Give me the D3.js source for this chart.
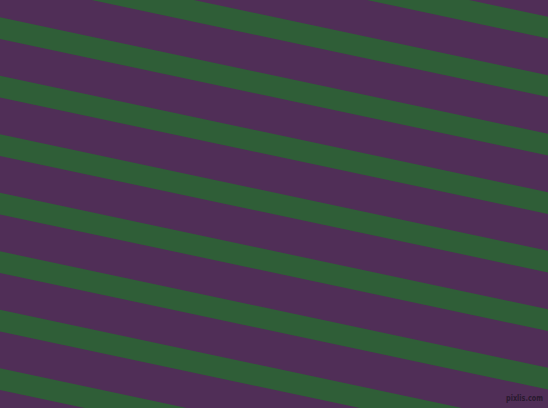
<!DOCTYPE html>
<html lang="en">
<head>
  <meta charset="utf-8">
  <title>Diagonal stripes</title>
  <script src="https://d3js.org/d3.v7.min.js"></script>
  <style>
    body { margin: 0; background: #fff; }
    svg { display: block; }
  </style>
</head>
<body>
  <div id="chart"></div>
  <script>
    // Stripe data
    const stripeIndex = [-3, -2, -1, 0, 1, 2, 3, 4, 5, 6, 7];
    const stripeTopAtLeft = [17.3, 75.8];   // top edge of stripes 0 and 1 at x = 0
    const bandThickness = [21.7];            // vertical thickness of a green band
    const stripeAngle = [12];                // degrees, falling to the right
    const colors = ["#502e57", "#2f5e37"];   // background, band
    const watermark = ["pixlis.com"];

    const width = 548, height = 408;

    const svg = d3.select("#chart")
      .append("svg")
      .attr("width", width)
      .attr("height", height);

    // Scales
    const x = d3.scaleLinear().domain([0, width]).range([0, width]);
    const yTop = d3.scaleLinear().domain([0, 1]).range(stripeTopAtLeft);
    const slope = Math.tan(stripeAngle[0] * Math.PI / 180);

    // background
    svg.append("rect")
      .attr("width", width)
      .attr("height", height)
      .attr("fill", colors[0]);

    const line = d3.line();
    const x0 = -10, x1 = width + 10;

    svg.selectAll("path.band")
      .data(stripeIndex)
      .join("path")
      .attr("class", "band")
      .attr("fill", colors[1])
      .attr("d", i => {
        const t = yTop(i);
        const b = t + bandThickness[0];
        return line([
          [x(x0), t + slope * x0],
          [x(x1), t + slope * x1],
          [x(x1), b + slope * x1],
          [x(x0), b + slope * x0]
        ]) + "Z";
      });

    // small watermark, bottom right
    svg.append("text")
      .attr("x", 506)
      .attr("y", 401)
      .attr("textLength", 37)
      .attr("lengthAdjust", "spacingAndGlyphs")
      .attr("font-family", "DejaVu Sans, sans-serif")
      .attr("font-size", 9.5)
      .attr("font-weight", "bold")
      .attr("fill", "#2a1a2f")
      .text(watermark[0]);
  </script>
</body>
</html>
